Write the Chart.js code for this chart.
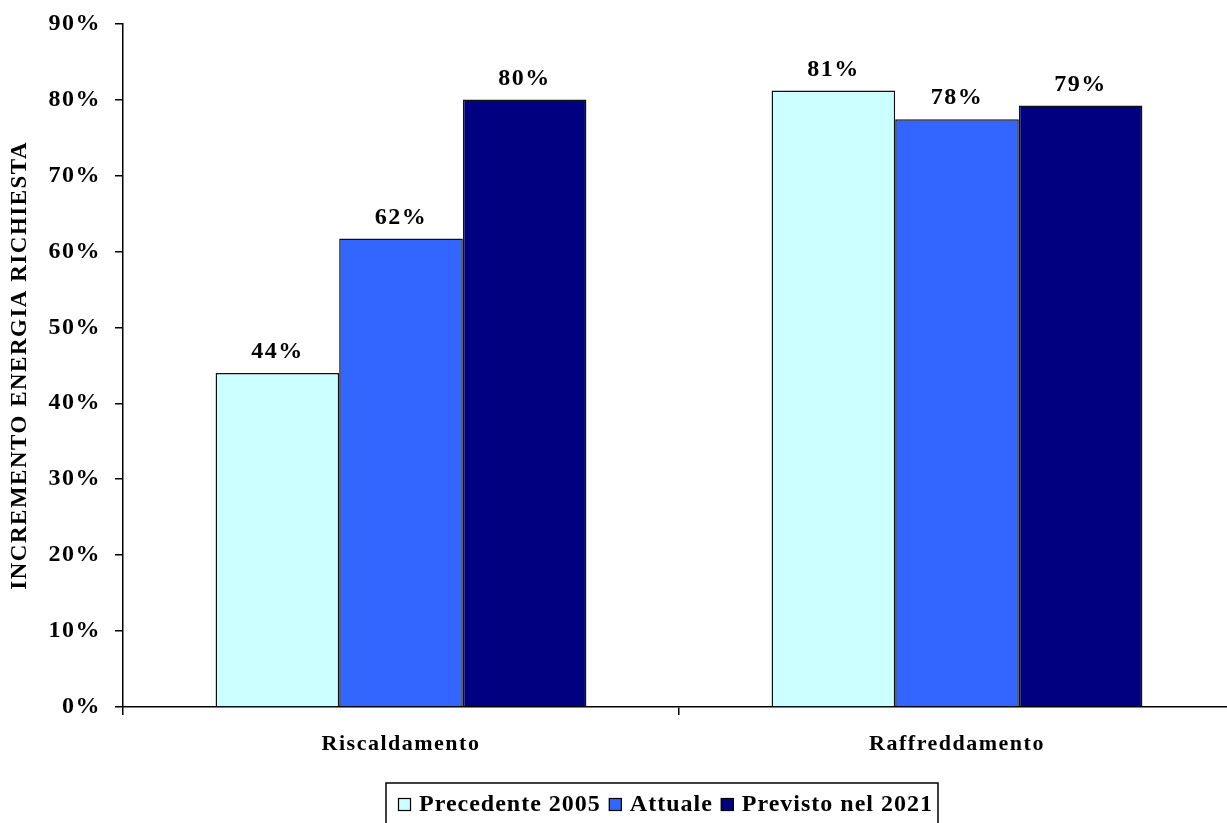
<!DOCTYPE html>
<html>
<head>
<meta charset="utf-8">
<script src="https://cdn.jsdelivr.net/npm/chart.js@4/dist/chart.umd.min.js"></script>
<style>
    html, body { margin: 0; padding: 0; background: #fff; overflow: hidden; }
    #wrap { position: relative; width: 1245px; height: 823px; }
</style>
</head>
<body>
<div id="wrap"><canvas id="chart"></canvas></div>
<script>
// categorie e serie
const categories = ['Riscaldamento', 'Raffreddamento'];
const precedente2005 = [44, 81.2];
const attuale = [61.7, 77.4];
const previsto2021 = [80, 79.2];
const valueLabels = [['44%', '81%'], ['62%', '78%'], ['80%', '79%']];
const seriesNames = ['Precedente 2005', 'Attuale', 'Previsto nel 2021'];
const seriesColors = ['#CCFFFF', '#3366FF', '#000080'];
const yTicks = [0, 10, 20, 30, 40, 50, 60, 70, 80, 90];

const FONT = '"Liberation Serif", "Times New Roman", serif';

// spaziatura lettere piu' larga, come nel grafico di Excel
const spacingPlugin = {
    id: 'spacing',
    beforeLayout(chart) { chart.ctx.letterSpacing = '1.5px'; },
    beforeDraw(chart) { chart.ctx.letterSpacing = '1.5px'; }
};

// etichette sopra le barre
const valueLabelPlugin = {
    id: 'valueLabels',
    afterDatasetsDraw(chart) {
        const ctx = chart.ctx;
        ctx.save();
        ctx.letterSpacing = '1.5px';
        ctx.font = 'bold 24px ' + FONT;
        ctx.fillStyle = '#000';
        ctx.textAlign = 'center';
        ctx.textBaseline = 'bottom';
        chart.data.datasets.forEach((ds, i) => {
            chart.getDatasetMeta(i).data.forEach((bar, j) => {
                ctx.fillText(valueLabels[i][j], bar.x, bar.y - 9);
            });
        });
        ctx.restore();
    }
};

// legenda con bordo
const boxedLegendPlugin = {
    id: 'boxedLegend',
    afterDraw(chart) {
        const ctx = chart.ctx;
        ctx.save();
        ctx.letterSpacing = '1px';
        ctx.font = 'bold 24px ' + FONT;
        ctx.textBaseline = 'middle';
        const left = 386, top = 783, boxRight = 938;
        ctx.strokeStyle = '#000';
        ctx.lineWidth = 1.5;
        ctx.strokeRect(left, top, boxRight - left, 60);
        let x = left + 12;
        const midY = 804;
        chart.data.datasets.forEach((ds, i) => {
            ctx.fillStyle = ds.backgroundColor;
            ctx.fillRect(x, midY - 6, 13, 13);
            ctx.lineWidth = 1.2;
            ctx.strokeRect(x + 0.5, midY - 5.5, 12, 12);
            x += 21;
            ctx.fillStyle = '#000';
            ctx.fillText(ds.label, x, midY + 1);
            x += ctx.measureText(ds.label).width + 8;
        });
        ctx.restore();
    }
};

const chart = new Chart(document.getElementById('chart'), {
    type: 'bar',
    data: {
        labels: categories,
        datasets: [
            { label: seriesNames[0], data: precedente2005, backgroundColor: seriesColors[0] },
            { label: seriesNames[1], data: attuale, backgroundColor: seriesColors[1] },
            { label: seriesNames[2], data: previsto2021, backgroundColor: seriesColors[2] }
        ]
    },
    options: {
        responsive: true,
        maintainAspectRatio: false,
        animation: false,
        devicePixelRatio: 1,
        layout: { padding: { top: 23, right: 10, bottom: 0, left: 0 } },
        datasets: {
            bar: {
                borderColor: '#111',
                borderWidth: 1.5,
                categoryPercentage: 0.667,
                barPercentage: 1
            }
        },
        plugins: {
            legend: { display: false },
            tooltip: { enabled: false }
        },
        scales: {
            x: {
                offset: true,
                grid: {
                    offset: true,
                    drawOnChartArea: false,
                    drawTicks: true,
                    tickLength: 8,
                    tickColor: '#000',
                    lineWidth: 1.5
                },
                border: { color: '#000', width: 1.5 },
                ticks: {
                    color: '#000',
                    padding: 16,
                    font: { family: FONT, size: 22, weight: 'bold' }
                },
                afterFit(scale) { scale.height = 116; }
            },
            y: {
                min: 0,
                max: 90,
                afterBuildTicks(scale) { scale.ticks = yTicks.map(v => ({ value: v })); },
                grid: {
                    drawOnChartArea: false,
                    drawTicks: true,
                    tickLength: 8,
                    tickColor: '#000',
                    lineWidth: 1.5
                },
                border: { color: '#000', width: 1.5 },
                ticks: {
                    color: '#000',
                    padding: 14,
                    font: { family: FONT, size: 24, weight: 'bold', lineHeight: 0.8 },
                    callback: v => v + '%'
                },
                title: {
                    display: true,
                    text: 'INCREMENTO ENERGIA RICHIESTA',
                    color: '#000',
                    padding: { top: 6, bottom: 0 },
                    font: { family: FONT, size: 23, weight: 'bold' }
                },
                afterFit(scale) { scale.width = 123; }
            }
        }
    },
    plugins: [spacingPlugin, valueLabelPlugin, boxedLegendPlugin]
});
</script>
</body>
</html>
